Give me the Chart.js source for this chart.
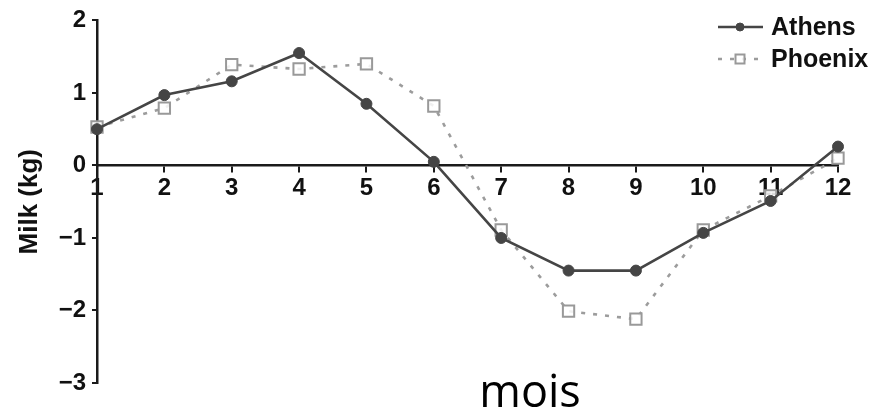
<!DOCTYPE html>
<html>
<head>
<meta charset="utf-8">
<script src="https://cdn.jsdelivr.net/npm/chart.js@4/dist/chart.umd.min.js"></script>
<style>
  html, body { margin: 0; padding: 0; background: #fff; }
  #wrap { width: 891px; height: 413px; }
</style>
</head>
<body>
<div id="wrap"><canvas id="milk" width="891" height="413"></canvas></div>
<script>
// Monthly milk yield deviation (kg) for two locations
const months = ['1', '2', '3', '4', '5', '6', '7', '8', '9', '10', '11', '12'];
const athens = [0.50, 0.97, 1.16, 1.55, 0.85, 0.05, -1.00, -1.45, -1.45, -0.93, -0.49, 0.26];
const phoenix = [0.53, 0.79, 1.39, 1.33, 1.40, 0.82, -0.89, -2.01, -2.12, -0.89, -0.42, 0.10];
const yTicks = [-3, -2, -1, 0, 1, 2];
const seriesNames = ['Athens', 'Phoenix'];
const xTitle = 'mois';
const yTitle = 'Milk (kg)';

const AXIS = '#1a1a1a';
const TICK_FONT = { family: '"Liberation Sans", Arial, sans-serif', size: 24, weight: 'bold' };

// Legend in the upper right corner, built from the dataset styles
const cornerLegend = {
  id: 'cornerLegend',
  afterDraw(chart) {
    const ctx = chart.ctx;
    const rows = [{ y: 27, base: 35 }, { y: 59, base: 67 }];
    chart.data.datasets.forEach((ds, i) => {
      const r = rows[i];
      ctx.save();
      ctx.strokeStyle = ds.borderColor;
      ctx.lineWidth = ds.borderWidth;
      ctx.setLineDash(ds.borderDash || []);
      ctx.beginPath();
      ctx.moveTo(718, r.y);
      ctx.lineTo(763, r.y);
      ctx.stroke();
      ctx.setLineDash([]);
      ctx.fillStyle = ds.pointBackgroundColor;
      ctx.strokeStyle = ds.pointBorderColor;
      ctx.lineWidth = ds.pointBorderWidth;
      ctx.beginPath();
      if ((ds.pointStyle || 'circle') === 'circle') {
        ctx.arc(740, r.y, 4, 0, Math.PI * 2);
      } else {
        ctx.rect(740 - 4.5, r.y - 4.5, 9, 9);
      }
      ctx.fill();
      ctx.stroke();
      ctx.fillStyle = '#111';
      ctx.font = 'bold 25px "Liberation Sans", Arial, sans-serif';
      ctx.textAlign = 'left';
      ctx.textBaseline = 'alphabetic';
      ctx.fillText(ds.label, 771, r.base);
      ctx.restore();
    });
  }
};

// Month caption under the plot
const monthCaption = {
  id: 'monthCaption',
  afterDraw(chart) {
    const ctx = chart.ctx;
    ctx.save();
    ctx.fillStyle = '#000';
    ctx.font = '45px "Open Sans", Lato, sans-serif';
    ctx.textAlign = 'center';
    ctx.textBaseline = 'alphabetic';
    ctx.fillText(xTitle, 530, 407);
    ctx.restore();
  }
};

new Chart(document.getElementById('milk'), {
  type: 'line',
  data: {
    labels: months,
    datasets: [
      {
        label: seriesNames[0],
        data: athens,
        borderColor: '#454545',
        borderWidth: 2.6,
        pointStyle: 'circle',
        pointRadius: 5.5,
        pointBackgroundColor: '#454545',
        pointBorderColor: '#454545',
        pointBorderWidth: 1,
        tension: 0,
        clip: false
      },
      {
        label: seriesNames[1],
        data: phoenix,
        borderColor: '#9c9c9c',
        borderWidth: 2.6,
        borderDash: [4, 8],
        pointStyle: 'rect',
        pointRadius: 8,
        pointBackgroundColor: 'rgba(255,255,255,0.85)',
        pointBorderColor: '#999999',
        pointBorderWidth: 2,
        tension: 0,
        clip: false
      }
    ]
  },
  options: {
    responsive: false,
    devicePixelRatio: 1,
    animation: false,
    layout: { padding: { top: 18, bottom: 30, left: 0, right: 53 } },
    plugins: {
      legend: { display: false },
      tooltip: { enabled: false }
    },
    scales: {
      x: {
        type: 'category',
        position: { y: 0 },
        offset: false,
        border: { display: true, color: AXIS, width: 2.5 },
        grid: { drawOnChartArea: false, drawTicks: true, tickLength: 6, color: AXIS, lineWidth: 2 },
        ticks: { color: '#111', font: TICK_FONT, padding: 3, maxRotation: 0, autoSkip: false }
      },
      y: {
        min: -3,
        max: 2,
        border: { display: true, color: AXIS, width: 2.5 },
        grid: { drawOnChartArea: false, drawTicks: true, tickLength: 5, color: AXIS, lineWidth: 2 },
        afterBuildTicks(scale) { scale.ticks = yTicks.map(v => ({ value: v })); },
        afterFit(scale) { scale.width = 97; },
        ticks: {
          color: '#111',
          font: TICK_FONT,
          padding: 6,
          callback: v => String(v).replace('-', '\u2212')
        },
        title: {
          display: true,
          text: yTitle,
          color: '#111',
          font: { family: '"Liberation Sans", Arial, sans-serif', size: 26, weight: 'bold' },
          padding: { top: 14, bottom: 0 }
        }
      }
    }
  },
  plugins: [cornerLegend, monthCaption]
});
</script>
</body>
</html>
